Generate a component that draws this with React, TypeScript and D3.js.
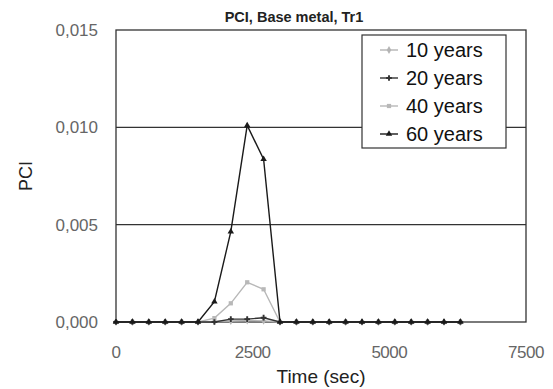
import { useEffect, useRef } from 'react';
import * as d3 from 'd3';

// time points (sec)
const times = [0, 300, 600, 900, 1200, 1500, 1800, 2100, 2400, 2700, 3000, 3300, 3600, 3900, 4200, 4500, 4800, 5100, 5400, 5700, 6000, 6300];

// PCI values per service age
const years10 = [0, 0, 0, 0, 0, 0, 0.00003, 0.00005, 0.00008, 0.00006, 0, 0, 0, 0, 0, 0, 0, 0, 0, 0, 0, 0];
const years20 = [0, 0, 0, 0, 0, 0, 0, 0.00015, 0.00015, 0.00022, 0, 0, 0, 0, 0, 0, 0, 0, 0, 0, 0, 0];
const years40 = [0, 0, 0, 0, 0, 0, 0.0002, 0.00096, 0.00204, 0.00168, 0, 0, 0, 0, 0, 0, 0, 0, 0, 0, 0, 0];
const years60 = [0, 0, 0, 0, 0, 0, 0.00104, 0.00464, 0.0101, 0.00836, 0, 0, 0, 0, 0, 0, 0, 0, 0, 0, 0, 0];

const seriesNames = ['10 years', '20 years', '40 years', '60 years'];
const xTicks = [0, 2500, 5000, 7500];
const yTicks = [0, 0.005, 0.01, 0.015];

const W = 553;
const H = 389;

export default function App() {
  const svgRef = useRef<SVGSVGElement>(null);

  useEffect(() => {
    if (!svgRef.current) return;
    d3.select(svgRef.current).selectAll('*').remove();

    const svg = d3.select(svgRef.current)
      .attr('width', W)
      .attr('height', H)
      .style('background', '#fff');

    const left = 116, right = 526, top = 30, bottom = 322;

    const x = d3.scaleLinear().domain([0, 7500]).range([left, right]);
    const y = d3.scaleLinear().domain([0, 0.015]).range([bottom, top]);

    const font = '"Liberation Sans", Arial, sans-serif';
    const fmt = (v: number) => v.toFixed(3).replace('.', ',');

    // title
    svg.append('text')
      .attr('x', 294).attr('y', 22)
      .attr('text-anchor', 'middle')
      .style('font-family', font)
      .style('font-size', '14.5px')
      .style('font-weight', 'bold')
      .style('fill', '#222')
      .text('PCI, Base metal, Tr1');

    // gridlines
    svg.append('g')
      .selectAll('line')
      .data(yTicks.filter(t => t > 0 && t < 0.015))
      .enter()
      .append('line')
      .attr('x1', left).attr('x2', right)
      .attr('y1', d => y(d)).attr('y2', d => y(d))
      .attr('stroke', '#333')
      .attr('stroke-width', 1.2);

    // plot frame
    svg.append('rect')
      .attr('x', left).attr('y', top)
      .attr('width', right - left).attr('height', bottom - top)
      .attr('fill', 'none')
      .attr('stroke', '#333')
      .attr('stroke-width', 1.3);

    // y tick labels
    svg.append('g')
      .selectAll('text')
      .data(yTicks)
      .enter()
      .append('text')
      .attr('x', 98).attr('y', d => y(d) + 6)
      .attr('text-anchor', 'end')
      .style('font-family', font)
      .style('font-size', '17px')
      .style('fill', '#666')
      .text(d => fmt(d));

    // x tick labels
    svg.append('g')
      .selectAll('text')
      .data(xTicks)
      .enter()
      .append('text')
      .attr('x', d => x(d)).attr('y', 358)
      .attr('text-anchor', 'middle')
      .style('font-family', font)
      .style('font-size', '17px')
      .style('letter-spacing', '-0.5px')
      .style('fill', '#666')
      .text(d => d);

    // axis titles
    svg.append('text')
      .attr('x', (left + right) / 2).attr('y', 383)
      .attr('text-anchor', 'middle')
      .style('font-family', font)
      .style('font-size', '19px')
      .style('fill', '#222')
      .text('Time (sec)');

    svg.append('text')
      .attr('transform', `translate(32,${(top + bottom) / 2}) rotate(-90)`)
      .attr('text-anchor', 'middle')
      .style('font-family', font)
      .style('font-size', '18px')
      .style('fill', '#222')
      .text('PCI');

    const allSeries = [years10, years20, years40, years60];
    const colors = ['#b4b4b4', '#333', '#b8b8b8', '#1a1a1a'];
    const symbols = [d3.symbolDiamond, d3.symbolCross, d3.symbolSquare, d3.symbolTriangle];

    const line = d3.line<number>()
      .x((_d, i) => x(times[i]))
      .y(d => y(d));

    // draw light series first, dark on top
    const order = [2, 0, 1, 3];
    order.forEach(s => {
      const vals = allSeries[s];
      const g = svg.append('g');
      g.append('path')
        .datum(vals)
        .attr('d', line)
        .attr('fill', 'none')
        .attr('stroke', colors[s])
        .attr('stroke-width', 1.4);
      g.selectAll('path.pt')
        .data(vals)
        .enter()
        .append('path')
        .attr('class', 'pt')
        .attr('transform', (d, i) => `translate(${x(times[i])},${y(d)})`)
        .attr('d', d3.symbol().type(symbols[s]).size(18)())
        .attr('fill', colors[s]);
    });

    // legend
    const lg = svg.append('g');
    lg.append('rect')
      .attr('x', 362).attr('y', 35)
      .attr('width', 144).attr('height', 113)
      .attr('fill', '#fff')
      .attr('stroke', '#333')
      .attr('stroke-width', 1.2);

    seriesNames.forEach((name, i) => {
      const ly = 50 + i * 28;
      lg.append('line')
        .attr('x1', 380).attr('x2', 398)
        .attr('y1', ly).attr('y2', ly)
        .attr('stroke', colors[i])
        .attr('stroke-width', 1.4);
      lg.append('path')
        .attr('transform', `translate(389,${ly})`)
        .attr('d', d3.symbol().type(symbols[i]).size(18)())
        .attr('fill', colors[i]);
      lg.append('text')
        .attr('x', 406).attr('y', ly + 7)
        .style('font-family', font)
        .style('font-size', '20px')
        .style('fill', '#111')
        .text(name);
    });
  }, []);

  return (
    <svg ref={svgRef} style={{ position: 'absolute', left: 0, top: 0 }} />
  );
}
